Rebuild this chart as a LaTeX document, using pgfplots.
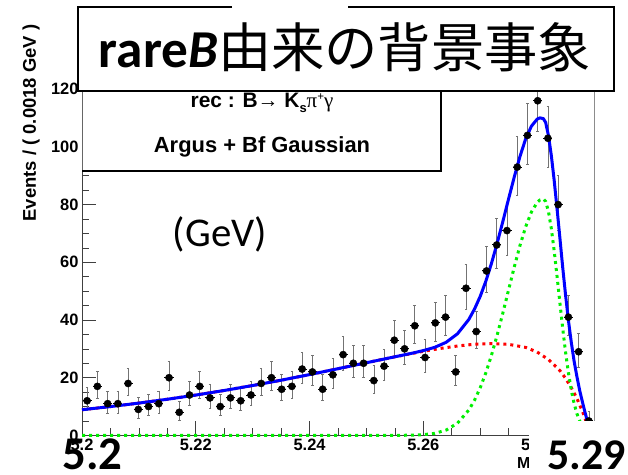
\documentclass[border=0pt]{standalone}
\usepackage{fontspec}
\usepackage{pgfplots}
\usepackage{pgfplotstable}
\pgfplotsset{compat=1.18}
\setmainfont{Liberation Sans}
\newfontfamily\carlito{Carlito}
\newfontfamily\cjk{Noto Sans CJK JP}
\newfontfamily\greekfont{Liberation Serif}

\definecolor{rootblue}{RGB}{0,0,255}
\definecolor{rootred}{RGB}{255,0,0}
\definecolor{rootgreen}{RGB}{0,240,0}

% binned data: bin centre, entries, upper / lower Poisson errors
\pgfplotstableread{
m      n    ep     em
5.2009 12   4.57   3.43
5.2027 17   5.21   4.09
5.2045 11   4.43   3.28
5.2063 11   4.43   3.28
5.2081 18   5.33   4.21
5.2099 9    4.12   2.96
5.2117 10   4.28   3.12
5.2135 11   4.43   3.28
5.2153 20   5.56   4.44
5.2171 8    3.96   2.78
5.2189 14   4.84   3.71
5.2207 17   5.21   4.09
5.2225 13   4.71   3.57
5.2243 10   4.28   3.12
5.2261 13   4.71   3.57
5.2279 12   4.57   3.43
5.2297 14   4.84   3.71
5.2315 18   5.33   4.21
5.2333 20   5.56   4.44
5.2351 16   5.09   3.97
5.2369 17   5.21   4.09
5.2387 23   5.87   4.77
5.2405 22   5.77   4.66
5.2423 16   5.09   3.97
5.2441 21   5.66   4.56
5.2459 28   6.36   5.27
5.2477 25   6.07   4.97
5.2495 25   6.07   4.97
5.2513 19   5.44   4.33
5.2531 24   5.97   4.87
5.2549 33   6.81   5.72
5.2567 30   6.55   5.45
5.2585 38   7.22   6.14
5.2603 27   6.27   5.17
5.2621 39   7.30   6.22
5.2639 41   7.46   6.38
5.2657 22   5.77   4.66
5.2675 51   8.19   7.12
5.2693 36   7.06   5.98
5.2711 57   8.60   7.53
5.2729 66   9.17   8.11
5.2747 71   9.47   8.41
5.2765 93   10.68  9.63
5.2783 104  11.24  10.19
5.2801 116  11.81  10.76
5.2819 103  11.19  10.14
5.2837 80   9.99   8.93
5.2855 41   7.46   6.38
5.2873 29   6.45   5.36
5.2891 5    3.40   2.18
}\bins

% Argus background component
\pgfplotstableread{
m      y
5.200  8.90
5.205  9.99
5.210  11.20
5.215  12.53
5.220  13.98
5.225  15.57
5.230  17.29
5.235  19.13
5.240  21.08
5.245  23.12
5.250  25.19
5.255  27.24
5.260  29.15
5.263  30.15
5.266  30.99
5.269  31.60
5.272  31.85
5.275  31.55
5.278  30.50
5.280  28.90
5.282  26.30
5.284  22.50
5.285  19.80
5.286  16.60
5.287  12.80
5.288  8.20
5.2885 5.50
5.289  2.60
5.2892 0.00
}\argus

% bifurcated Gaussian component
\pgfplotstableread{
m      y
5.200  0.00
5.250  0.00
5.255  0.01
5.258  0.08
5.260  0.25
5.262  0.71
5.264  1.83
5.266  4.22
5.268  8.80
5.269  12.21
5.270  16.51
5.271  21.75
5.272  27.93
5.273  34.93
5.274  42.57
5.275  50.54
5.276  58.47
5.277  65.90
5.278  72.37
5.279  77.43
5.280  80.72
5.2805 81.62
5.2811 82.00
5.2815 81.10
5.282  77.57
5.2825 71.69
5.283  64.02
5.2835 55.24
5.284  46.06
5.2845 37.11
5.285  28.89
5.2855 21.74
5.286  15.80
5.2865 11.10
5.287  7.53
5.2875 4.94
5.288  3.13
5.289  1.13
5.290  0.36
}\gauss

% total fit
\pgfplotstableread{
m      y
5.200  8.90
5.205  9.99
5.210  11.20
5.215  12.53
5.220  13.98
5.225  15.57
5.230  17.29
5.235  19.13
5.240  21.08
5.245  23.12
5.250  25.19
5.255  27.25
5.258  28.48
5.260  29.40
5.262  30.53
5.264  32.26
5.266  35.21
5.268  40.20
5.269  43.81
5.270  48.20
5.271  53.51
5.272  59.78
5.273  66.78
5.274  74.32
5.275  82.09
5.276  89.69
5.277  96.77
5.278  102.87
5.279  107.18
5.280  109.62
5.2805 110.07
5.2811 109.80
5.2815 108.50
5.282  103.87
5.2825 97.04
5.283  88.42
5.2835 78.69
5.284  68.56
5.2845 58.26
5.285  48.69
5.2855 39.94
5.286  32.40
5.2865 25.80
5.287  20.33
5.2875 15.44
5.288  11.33
5.2885 7.40
5.289  3.73
5.2892 0.90
}\total

\begin{document}
\begin{tikzpicture}
\useasboundingbox (0bp,0bp) rectangle (628bp,475bp);
\fill[white] (0bp,0bp) rectangle (628bp,475bp);

\begin{axis}[
  at={(82bp,39.6bp)}, anchor=south west,
  scale only axis, width=512bp, height=360.6bp,
  xmin=5.2, xmax=5.29, ymin=0, ymax=125,
  axis x line*=bottom, axis y line*=left,
  axis line style={-, line width=0.8bp, black!75},
  tick align=inside,
  xtick={5.2,5.22,5.24,5.26,5.28},
  xticklabels={5.2,5.22,5.24,5.26,5.28},
  ytick={0,20,40,60,80,100,120},
  minor tick num=3,
  major tick length=14bp, minor tick length=7bp,
  tick style={line width=0.7bp, black!75},
  tick label style={font=\bfseries\fontsize{16.5}{16.5}\selectfont},
  /pgf/number format/assume math mode=true,
  clip=false,
]
% vertical error bars
\addplot[only marks, mark=none, forget plot,
  error bars/.cd, y dir=both, y explicit,
  error bar style={line width=0.6bp, black!55},
  error mark options={rotate=90, mark size=1.3bp, line width=0.6bp, black!55}]
  table[x=m, y=n, y error plus=ep, y error minus=em] {\bins};
% horizontal bin bars
\addplot[only marks, mark=none, forget plot,
  error bars/.cd, x dir=both, x fixed=0.0008, error mark=none,
  error bar style={line width=1bp, black}]
  table[x=m, y=n] {\bins};
% data points
\addplot[only marks, mark=*, mark size=3.6bp, black] table[x=m, y=n] {\bins};
% fit components and total
\addplot[rootred, line width=3bp, dash pattern=on 3bp off 4bp] table[x=m, y=y] {\argus};
\addplot[rootgreen, line width=3bp, dash pattern=on 3bp off 4bp] table[x=m, y=y] {\gauss};
\addplot[rootblue, line width=3bp] table[x=m, y=y] {\total};
\end{axis}

% right frame edge
\draw[black!45, line width=0.8bp] (594bp,39.6bp) -- (594bp,400bp);

% y axis title
\node[rotate=90, font=\bfseries\fontsize{18.5}{18.5}\selectfont] at (31bp,352bp) {Events / ( 0.0018 GeV )};
% x axis title
\node[anchor=base west, font=\bfseries\fontsize{16}{16}\selectfont, inner sep=0pt] at (517bp,7bp)
  {M\raisebox{-0.35ex}{\fontsize{11}{11}\selectfont bc} (GeV)};

% fit description box
\fill[white] (82bp,304bp) rectangle (441bp,410bp);
\draw[black!60, line width=0.7bp] (82bp,304bp) -- (82bp,410bp);
\draw[black, line width=2.6bp] (82bp,304bp) -- (441bp,304bp) -- (441bp,410bp);
\node[anchor=base, inner sep=0pt, font=\bfseries\fontsize{21}{21}\selectfont] at (262bp,367bp)
  {rec : B{\mdseries→} K\raisebox{-0.4ex}{\fontsize{13}{13}\selectfont s}{\greekfont\mdseries π\raisebox{0.75ex}{\fontsize{12}{12}\selectfont\bfseries +}γ}};
\node[anchor=base, inner sep=0pt, font=\bfseries\fontsize{22}{22}\selectfont] at (262bp,322bp)
  {Argus + Bf Gaussian};

% title box
\fill[white] (78bp,384bp) rectangle (614bp,468bp);
\draw[black, line width=2bp] (232bp,468bp) -- (78bp,468bp) -- (78bp,384bp) -- (614bp,384bp) -- (614bp,468bp) -- (348bp,468bp);
\node[anchor=base, inner sep=0pt] at (345bp,407bp)
  {\fontsize{53.5}{60}\selectfont\carlito\bfseries rare\itshape B\normalfont\cjk 由来の背景事象};

% unit note and range labels
\node[anchor=base, inner sep=0pt] at (220bp,228bp) {\fontsize{41}{41}\selectfont\carlito (GeV)};
\fill[white] (529bp,0bp) rectangle (628bp,54bp);
\node[anchor=base, inner sep=0pt] at (92.5bp,6bp) {\fontsize{47}{47}\selectfont\carlito\bfseries 5.2};
\node[anchor=base, inner sep=0pt] at (586.5bp,6bp) {\fontsize{44}{44}\selectfont\carlito\bfseries 5.29};
\end{tikzpicture}
\end{document}
